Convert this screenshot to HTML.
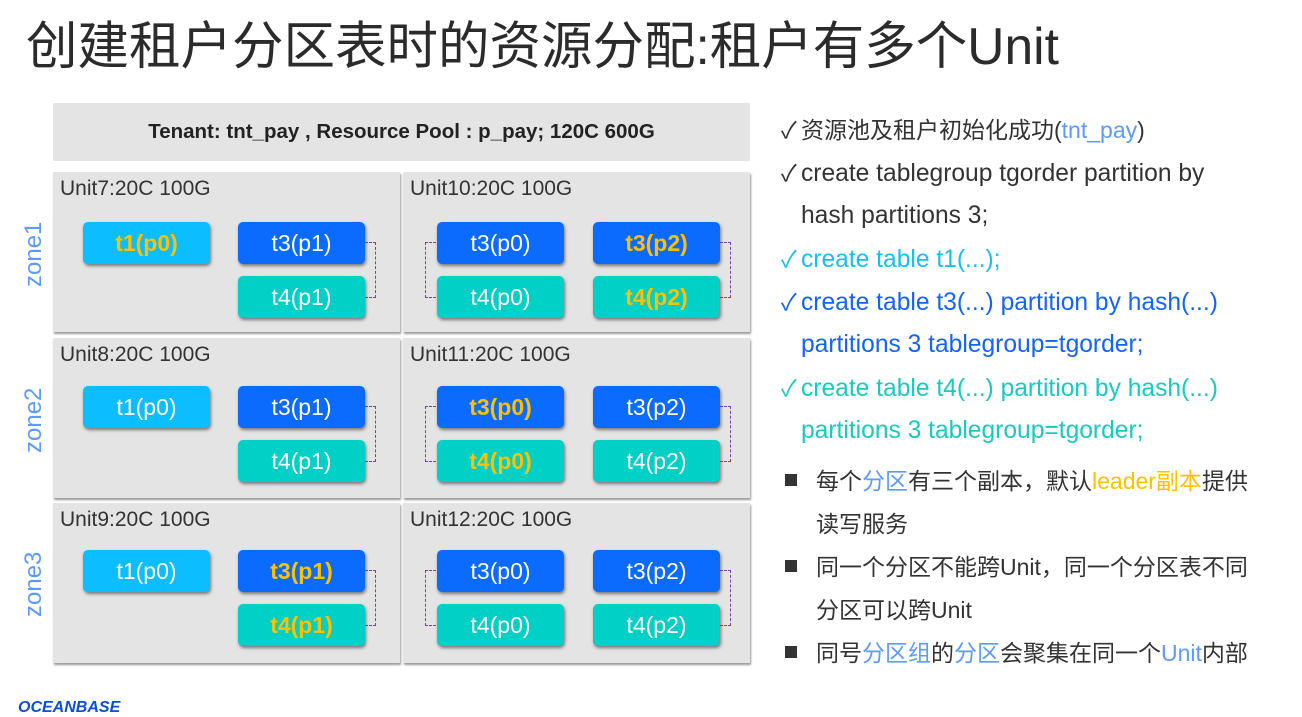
<!DOCTYPE html>
<html><head><meta charset="utf-8"><style>
body{margin:0;width:1302px;height:704px;background:#fff;position:relative;overflow:hidden;font-family:"Liberation Sans","Noto Sans CJK SC",sans-serif;}
.a{position:absolute}
.title{left:26px;top:4px;font-size:51.5px;color:#2b2b2b;white-space:nowrap}
.hdr{left:53px;top:103px;width:697px;height:58px;background:#e4e4e4;font-weight:bold;font-size:20.5px;color:#222;text-align:center;line-height:58px}
.cell{position:absolute;width:347px;height:160px;background:#e4e4e4;box-shadow:1px 2px 2px #999}
.cell .lab{position:absolute;left:7px;top:5px;font-size:21px;color:#333}
.b{position:absolute;width:127px;height:42px;border-radius:5px;color:#fff;font-size:23px;text-align:center;line-height:42px;box-shadow:1px 2px 3px #777}
.c1{background:#0cbeff}.c3{background:#0b6bff}.c4{background:#00d0c6}
.y{color:#ffc000;font-weight:bold}
.zone{position:absolute;left:2px;font-size:24px;color:#5b9bff;transform:rotate(-90deg);transform-origin:center;width:64px;text-align:center;line-height:30px}
.br{position:absolute;border:1.5px dashed #7a3fae;width:10px;height:54px}
.r{border-left:none}.l{border-right:none}
.t{position:absolute;left:781px;font-size:24.6px;color:#333;white-space:nowrap;line-height:30px;height:30px}
.cj{font-size:23px}
.k{display:inline-block;width:20px;font-size:23px}
.sq{display:inline-block;width:12px;height:12px;background:#333;margin:0 19px 3px 4px}
</style></head><body>
<div class="a title">创建租户分区表时的资源分配:租户有多个Unit</div>
<div class="a hdr">Tenant: tnt_pay , Resource Pool : p_pay; 120C 600G</div>

<div class="zone" style="top:240px">zone1</div>
<div class="zone" style="top:406px">zone2</div>
<div class="zone" style="top:570px">zone3</div>

<div class="cell" style="left:53px;top:172px"><div class="lab">Unit7:20C 100G</div>
<div class="b c1 y" style="left:30px;top:50px">t1(p0)</div>
<div class="b c3" style="left:185px;top:50px">t3(p1)</div>
<div class="b c4" style="left:185px;top:104px">t4(p1)</div>
<div class="br r" style="left:312px;top:70px"></div></div>
<div class="cell" style="left:403px;top:172px"><div class="lab">Unit10:20C 100G</div>
<div class="br l" style="left:22px;top:70px"></div>
<div class="b c3" style="left:34px;top:50px">t3(p0)</div>
<div class="b c4" style="left:34px;top:104px">t4(p0)</div>
<div class="b c3 y" style="left:190px;top:50px">t3(p2)</div>
<div class="b c4 y" style="left:190px;top:104px">t4(p2)</div>
<div class="br r" style="left:317px;top:70px"></div></div>

<div class="cell" style="left:53px;top:338px"><div class="lab">Unit8:20C 100G</div>
<div class="b c1" style="left:30px;top:48px">t1(p0)</div>
<div class="b c3" style="left:185px;top:48px">t3(p1)</div>
<div class="b c4" style="left:185px;top:102px">t4(p1)</div>
<div class="br r" style="left:312px;top:68px"></div></div>
<div class="cell" style="left:403px;top:338px"><div class="lab">Unit11:20C 100G</div>
<div class="br l" style="left:22px;top:68px"></div>
<div class="b c3 y" style="left:34px;top:48px">t3(p0)</div>
<div class="b c4 y" style="left:34px;top:102px">t4(p0)</div>
<div class="b c3" style="left:190px;top:48px">t3(p2)</div>
<div class="b c4" style="left:190px;top:102px">t4(p2)</div>
<div class="br r" style="left:317px;top:68px"></div></div>

<div class="cell" style="left:53px;top:503px"><div class="lab">Unit9:20C 100G</div>
<div class="b c1" style="left:30px;top:47px">t1(p0)</div>
<div class="b c3 y" style="left:185px;top:47px">t3(p1)</div>
<div class="b c4 y" style="left:185px;top:101px">t4(p1)</div>
<div class="br r" style="left:312px;top:67px"></div></div>
<div class="cell" style="left:403px;top:503px"><div class="lab">Unit12:20C 100G</div>
<div class="br l" style="left:22px;top:67px"></div>
<div class="b c3" style="left:34px;top:47px">t3(p0)</div>
<div class="b c4" style="left:34px;top:101px">t4(p0)</div>
<div class="b c3" style="left:190px;top:47px">t3(p2)</div>
<div class="b c4" style="left:190px;top:101px">t4(p2)</div>
<div class="br r" style="left:317px;top:67px"></div></div>

<div class="t cj" style="top:115px"><span class="k">✓</span>资源池及租户初始化成功(<span style="color:#5b9bff">tnt_pay</span>)</div>
<div class="t" style="top:158px"><span class="k">✓</span>create tablegroup tgorder partition by</div>
<div class="t" style="top:201px"><span class="k"></span>hash partitions 3;</div>
<div class="t" style="top:244px;color:#14bff5"><span class="k">✓</span>create table t1(...);</div>
<div class="t" style="top:287px;color:#1064ff"><span class="k">✓</span>create table t3(...) partition by hash(...)</div>
<div class="t" style="top:330px;color:#1064ff"><span class="k"></span>partitions 3 tablegroup=tgorder;</div>
<div class="t" style="top:373px;color:#17cbbf"><span class="k">✓</span>create table t4(...) partition by hash(...)</div>
<div class="t" style="top:416px;color:#17cbbf"><span class="k"></span>partitions 3 tablegroup=tgorder;</div>
<div class="t cj" style="top:466px"><span class="sq"></span>每个<span style="color:#5b9bff">分区</span>有三个副本，默认<span style="color:#ffc000">leader副本</span>提供</div>
<div class="t cj" style="top:509px;left:816px">读写服务</div>
<div class="t cj" style="top:552px"><span class="sq"></span>同一个分区不能跨Unit，同一个分区表不同</div>
<div class="t cj" style="top:595px;left:816px">分区可以跨Unit</div>
<div class="t cj" style="top:638px"><span class="sq"></span>同号<span style="color:#5b9bff">分区组</span>的<span style="color:#5b9bff">分区</span>会聚集在同一个<span style="color:#5b9bff">Unit</span>内部</div>

<div class="a" style="left:18px;top:699px;font-size:16px;font-weight:bold;font-style:italic;color:#0a4fd8">OCEANBASE</div>
</body></html>
